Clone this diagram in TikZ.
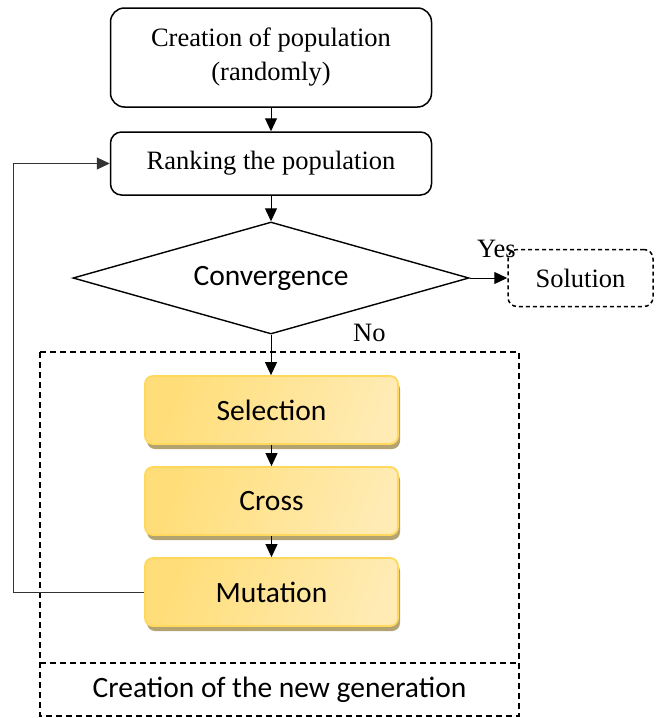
\documentclass[tikz,border=0pt]{standalone}
\usepackage{fontspec}
\setmainfont{Liberation Serif}
\newfontfamily\calfont{Carlito}
\usetikzlibrary{shapes.geometric,arrows.meta,shadows}
\definecolor{gold}{HTML}{FFD966}
\definecolor{cream}{HTML}{FFF5DC}
\definecolor{goldedge}{HTML}{FFD85C}
\definecolor{shadowc}{HTML}{B3A371}
\tikzset{
  arr/.style={-{Triangle[length=13pt,width=12pt]}, line width=1pt},
  roundbox/.style={draw, line width=1.5pt, inner sep=0pt, align=center,
    font=\fontsize{26.5}{34}\selectfont},
  yelbox/.style={draw=goldedge, line width=1.8pt, rounded corners=8pt,
    minimum width=253pt, minimum height=68pt, inner sep=0pt,
    font=\calfont\fontsize{29.5}{34}\selectfont,
    left color=gold!85!cream, middle color=cream, right color=gold!35!cream, shading angle=70,
    drop shadow={shadow xshift=2pt, shadow yshift=-5pt, fill=shadowc, opacity=1}},
  dashbox/.style={draw, line width=1.4pt, dash pattern=on 6pt off 4pt},
  lbl/.style={font=\fontsize{26.5}{30}\selectfont, inner sep=0pt}
}
\begin{document}
\begin{tikzpicture}[x=1pt,y=-1pt]
\useasboundingbox (0,0) rectangle (656,718);
% top nodes
\node[roundbox, rounded corners=14pt, minimum width=321pt, minimum height=99pt] (top) at (271,57.5) {Creation of population\\(randomly)};
\node[roundbox, rounded corners=11pt, minimum width=321pt, minimum height=63pt] (rank) at (271,163.5) {Ranking the population};
\node[draw, diamond, aspect=3.536, line width=1.4pt, minimum width=396pt, minimum height=112pt, inner sep=0pt,
  font=\calfont\fontsize{29.5}{34}\selectfont] (conv) at (271,278) {Convergence};
\node[roundbox, dash pattern=on 4pt off 3pt, rounded corners=9pt, minimum width=145pt, minimum height=57pt] (sol) at (580.5,278) {Solution};
% labels
\node[lbl, anchor=base west] (yes) at (477,257) {Yes};
\node[lbl, anchor=base west] (no) at (353,341) {No};
% dashed container
\draw[dashbox] (40,352) rectangle (519,716);
\coordinate (sl) at (40,663);
\coordinate (sr) at (519,663);
\draw[dashbox] (sl) -- (sr);
\node[minimum width=479pt, minimum height=53pt, inner sep=0pt,
  font=\calfont\fontsize{29.5}{34}\selectfont] (gen) at (279.5,689.5) {Creation of the new generation};
% yellow boxes
\node[yelbox] (sel) at (271.5,410) {Selection};
\node[yelbox] (cross) at (271.5,501) {Cross};
\node[yelbox] (mut) at (271.5,592) {Mutation};
% connectors
\draw[arr] (top.south) -- (rank.north);
\draw[arr] (rank.south) -- (conv.north);
\draw[arr] (conv.east) -- (sol.west);
\draw[arr] (conv.south) -- (sel.north -| conv.south);
\draw[arr] (sel.south) -- (cross.north);
\draw[arr] (cross.south) -- (mut.north);
\coordinate (c1) at (13,592);
\coordinate (c2) at (13,163.5);
\draw[arr, draw=black!80] (mut.west) -- (c1) -- (c2) -- (rank.west);
\end{tikzpicture}
\end{document}
